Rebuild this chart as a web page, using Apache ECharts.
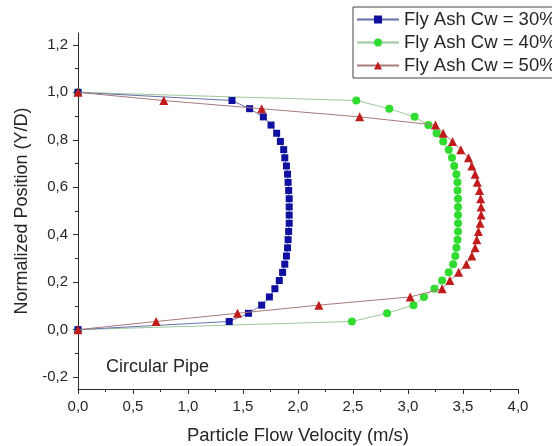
<!DOCTYPE html>
<html>
<head>
<meta charset="utf-8">
<script src="https://cdn.jsdelivr.net/npm/echarts@6/dist/echarts.min.js"></script>
<style>
  html, body { margin: 0; padding: 0; background: #fff; }
  #chart { width: 552px; height: 446px; }
</style>
</head>
<body>
<div id="chart"></div>
<script>
// normalized position Y/D (same for all profiles)
const positions = [0, 0.0345, 0.069, 0.1034, 0.1379, 0.1724, 0.2069, 0.2414, 0.2759, 0.3103,
  0.3448, 0.3793, 0.4138, 0.4483, 0.4828, 0.5172, 0.5517, 0.5862, 0.6207, 0.6552,
  0.6897, 0.7241, 0.7586, 0.7931, 0.8276, 0.8621, 0.8966, 0.931, 0.9655, 1];

// particle velocity (m/s)
const cw30 = [0, 1.375, 1.55, 1.67, 1.74, 1.79, 1.83, 1.86, 1.88, 1.895,
  1.905, 1.91, 1.915, 1.92, 1.92, 1.92, 1.92, 1.915, 1.91, 1.905,
  1.895, 1.88, 1.87, 1.84, 1.806, 1.755, 1.685, 1.56, 1.40, 0];
const cw40 = [0, 2.49, 2.81, 3.05, 3.145, 3.24, 3.31, 3.37, 3.41, 3.43,
  3.44, 3.45, 3.455, 3.455, 3.455, 3.455, 3.455, 3.45, 3.45, 3.44,
  3.42, 3.40, 3.37, 3.32, 3.26, 3.185, 3.06, 2.83, 2.53, 0];
const cw50 = [0, 0.71, 1.45, 2.19, 3.02, 3.31, 3.38, 3.46, 3.53, 3.58,
  3.61, 3.625, 3.64, 3.655, 3.665, 3.665, 3.66, 3.65, 3.63, 3.61,
  3.58, 3.55, 3.48, 3.405, 3.32, 3.25, 2.56, 1.67, 0.78, 0];

const seriesNames = ["Fly Ash Cw = 30%", "Fly Ash Cw = 40%", "Fly Ash Cw = 50%"];

// y axis ticks
const yMajorTicks = [-0.2, 0, 0.2, 0.4, 0.6, 0.8, 1.0, 1.2];
const yMinorTicks = [-0.1, 0.1, 0.3, 0.5, 0.7, 0.9, 1.1];

function pairs(xs) {
  return xs.map((v, i) => [v, positions[i]]);
}
function comma(v) {
  return v.toFixed(1).replace(".", ",");
}

const chart = echarts.init(document.getElementById("chart"), null, { renderer: "canvas" });
const txt = "#262626";
const axisCol = "#2a2a2a";
const font = "Liberation Sans, Arial, sans-serif";

const option = {
  animation: false,
  textStyle: { fontFamily: font },
  grid: { left: 78, right: 34, top: 33, bottom: 57, containLabel: false, outerBoundsMode: "none" },
  legend: {
    data: seriesNames,
    orient: "vertical",
    left: 353,
    top: 7,
    padding: [3, 4, 3, 3],
    itemGap: 4,
    itemWidth: 42,
    itemHeight: 10,
    borderColor: "#444",
    borderWidth: 1,
    backgroundColor: "#fff",
    textStyle: { fontSize: 18.5, lineHeight: 19, color: txt, fontFamily: font }
  },
  xAxis: {
    type: "value",
    min: 0,
    max: 4,
    interval: 0.5,
    name: "Particle Flow Velocity (m/s)",
    nameLocation: "middle",
    nameGap: 37,
    nameTextStyle: { fontSize: 18.5, color: txt },
    axisLine: { show: true, onZero: false, lineStyle: { color: axisCol } },
    axisTick: { show: true, inside: false, length: 5, lineStyle: { color: axisCol } },
    minorTick: { show: true, splitNumber: 2, length: 3, lineStyle: { color: axisCol } },
    axisLabel: { fontSize: 15, color: txt, margin: 10, formatter: comma },
    splitLine: { show: false }
  },
  yAxis: [
    {
      type: "value",
      min: -0.25,
      max: 1.25,
      name: "Normalized Position (Y/D)",
      nameLocation: "middle",
      nameGap: 45,
      nameTextStyle: { fontSize: 18, color: txt },
      axisLine: { show: true, onZero: false, lineStyle: { color: axisCol } },
      axisTick: { show: true, inside: false, length: 5, customValues: yMajorTicks, lineStyle: { color: axisCol } },
      axisLabel: { fontSize: 15, color: txt, margin: 10, customValues: yMajorTicks, formatter: comma },
      splitLine: { show: false }
    },
    {
      type: "value",
      min: -0.25,
      max: 1.25,
      position: "left",
      axisLine: { show: false, onZero: false },
      axisTick: { show: true, inside: false, length: 3, customValues: yMinorTicks, lineStyle: { color: axisCol } },
      axisLabel: { show: false, customValues: yMinorTicks },
      splitLine: { show: false }
    }
  ],
  graphic: [
    {
      type: "text",
      left: 106,
      top: 358,
      style: { text: "Circular Pipe", fontSize: 18, fill: txt, fontFamily: font }
    }
  ],
  series: [
    {
      name: seriesNames[0],
      type: "line",
      data: pairs(cw30),
      symbol: "rect",
      symbolSize: 7,
      showAllSymbol: true,
      itemStyle: { color: "#0f0fa0" },
      lineStyle: { color: "#6670a8", width: 1 },
      z: 3
    },
    {
      name: seriesNames[1],
      type: "line",
      data: pairs(cw40),
      symbol: "circle",
      symbolSize: 8,
      showAllSymbol: true,
      itemStyle: { color: "#2fdc2f" },
      lineStyle: { color: "#9cc89c", width: 1 },
      z: 2
    },
    {
      name: seriesNames[2],
      type: "line",
      data: pairs(cw50),
      symbol: "triangle",
      symbolSize: 9,
      showAllSymbol: true,
      itemStyle: { color: "#c01c1c" },
      lineStyle: { color: "#a87a7a", width: 1 },
      z: 4
    }
  ]
};

chart.setOption(option);
</script>
</body>
</html>
